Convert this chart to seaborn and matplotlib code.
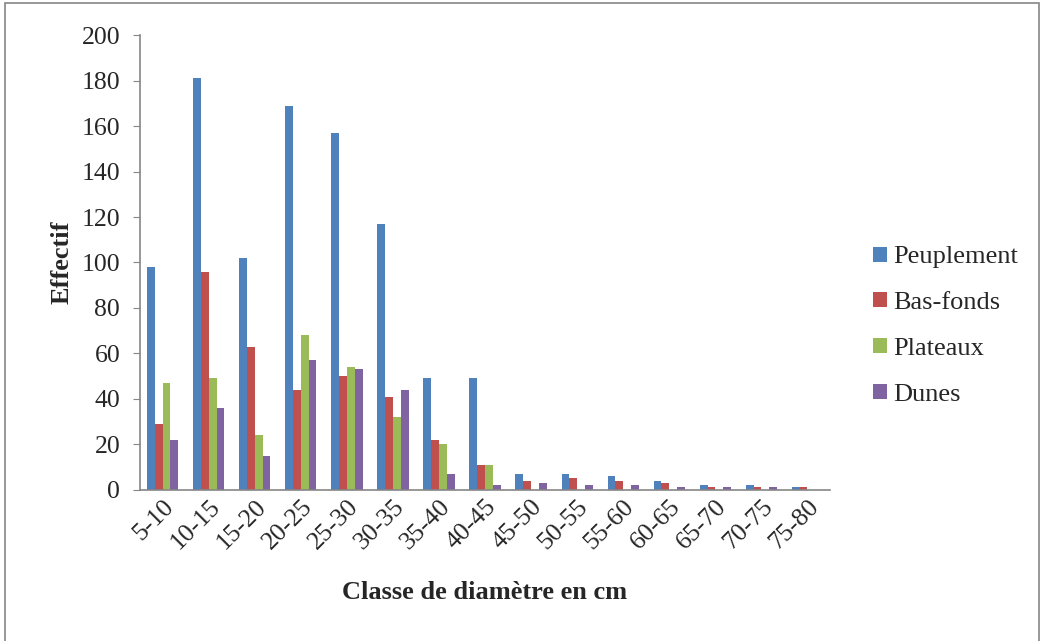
import pandas as pd
import seaborn as sns
import matplotlib.pyplot as plt
from matplotlib.patches import Rectangle

classes = ["5-10", "10-15", "15-20", "20-25", "25-30", "30-35", "35-40", "40-45",
           "45-50", "50-55", "55-60", "60-65", "65-70", "70-75", "75-80"]
peuplement = [98, 181, 102, 169, 157, 117, 49, 49, 7, 7, 6, 4, 2, 2, 1]
bas_fonds = [29, 96, 63, 44, 50, 41, 22, 11, 4, 5, 4, 3, 1, 1, 1]
plateaux = [47, 49, 24, 68, 54, 32, 20, 11, 0, 0, 0, 0, 0, 0, 0]
dunes = [22, 36, 15, 57, 53, 44, 7, 2, 3, 2, 2, 1, 1, 1, 0]

series = ["Peuplement", "Bas-fonds", "Plateaux", "Dunes"]
colors = ["#4F81BD", "#C0504D", "#9BBB59", "#8064A2"]

rows = []
for name, vals in zip(series, [peuplement, bas_fonds, plateaux, dunes]):
    for c, v in zip(classes, vals):
        rows.append({"Classe": c, "Effectif": v, "Zone": name})
df = pd.DataFrame(rows)

sns.set_style("white")
plt.rcParams['font.family'] = ['Liberation Serif', 'DejaVu Serif']

fig = plt.figure(figsize=(10.42, 6.41), dpi=100)
ax = fig.add_axes([0.134, 0.236, 0.663, 0.709])

sns.barplot(data=df, x="Classe", y="Effectif", hue="Zone", order=classes,
            hue_order=series, palette=colors, width=0.68, saturation=1,
            linewidth=0, ax=ax)

ax.set_ylim(0, 200)
ax.set_xlim(-0.5, len(classes) - 0.5)
ax.set_yticks(range(0, 201, 20))
ax.tick_params(axis="y", labelsize=18.5, length=5, color="#868686", left=True, pad=9)
ax.tick_params(axis="x", labelsize=18.5, length=0, pad=4)
plt.setp(ax.get_xticklabels(), rotation=45, ha="right", rotation_mode="anchor")

for s in ["top", "right"]:
    ax.spines[s].set_visible(False)
for s in ["left", "bottom"]:
    ax.spines[s].set_color("#868686")
    ax.spines[s].set_linewidth(1.2)

ax.set_xlabel("Classe de diamètre en cm", fontsize=19, fontweight="bold", labelpad=20)
ax.set_ylabel("Effectif", fontsize=19, fontweight="bold", labelpad=6)

ax.legend(loc="center left", bbox_to_anchor=(1.062, 0.36), frameon=False,
          fontsize=19, labelspacing=0.9, handlelength=0.5, handleheight=0.5,
          handletextpad=0.25, borderpad=0, borderaxespad=0)

fig.patches.append(Rectangle((0.005, -0.01), 0.992, 1.006, transform=fig.transFigure,
                             fill=False, edgecolor="#868686", linewidth=1.2))

fig.savefig("out.png", dpi=100)
